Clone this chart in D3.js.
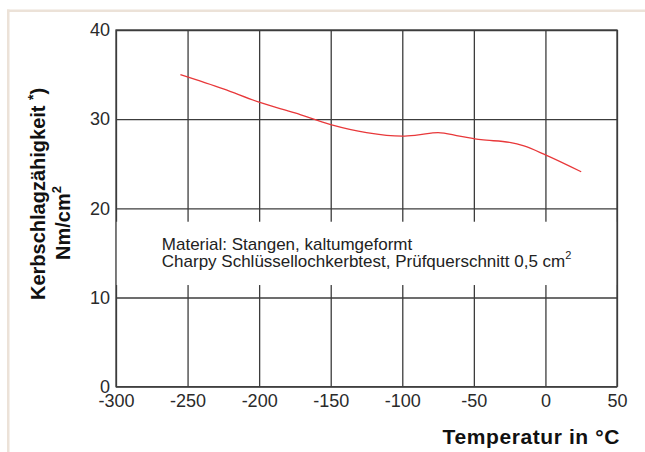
<!DOCTYPE html>
<html>
<head>
<meta charset="utf-8">
<script src="https://cdn.jsdelivr.net/npm/d3@7"></script>
<style>
  body { margin: 0; background: #fff; }
  svg { display: block; font-family: "Liberation Sans", Arial, sans-serif; }
</style>
</head>
<body>
<div id="chart"></div>
<script>
// data
const temps = [-255, -225, -200, -175, -150, -125, -100, -90, -75, -60, -45, -25, -15, 0, 25];
const impact = [35.0, 33.4, 31.9, 30.7, 29.4, 28.5, 28.1, 28.2, 28.5, 28.1, 27.7, 27.4, 27.0, 26.0, 24.1];
const xTicks = [-300, -250, -200, -150, -100, -50, 0, 50];
const yTicks = [0, 10, 20, 30, 40];
const noteLines = ["Material: Stangen, kaltumgeformt", "Charpy Schlüssellochkerbtest, Prüfquerschnitt 0,5 cm"];

const W = 645, H = 452;
const margin = {top: 30, right: 28, bottom: 65.3, left: 116};
const width = W - margin.left - margin.right;
const height = H - margin.top - margin.bottom;

const svg = d3.select("#chart")
    .append("svg")
    .attr("width", W)
    .attr("height", H);

// beige frame on top and left
svg.append("rect").attr("x", 7).attr("y", 9.5).attr("width", W - 7).attr("height", 2.5).attr("fill", "#ece2d8");
svg.append("rect").attr("x", 7).attr("y", 9.5).attr("width", 2.5).attr("height", H - 9.5).attr("fill", "#ece2d8");

const g = svg.append("g")
    .attr("transform", `translate(${margin.left}, ${margin.top})`);

const x = d3.scaleLinear().domain([-300, 50]).range([0, width]);
const y = d3.scaleLinear().domain([0, 40]).range([height, 0]);

// plain hyphen instead of the unicode minus
const fmt = d => String(d);

// Y axis with gridlines
const yAxis = g.append("g")
    .call(d3.axisLeft(y).tickValues(yTicks).tickFormat(fmt).tickSize(-width).tickSizeOuter(0).tickPadding(6));
// X axis with gridlines
const xAxis = g.append("g")
    .attr("transform", `translate(0, ${height})`)
    .call(d3.axisBottom(x).tickValues(xTicks).tickFormat(fmt).tickSize(-height).tickSizeOuter(0).tickPadding(8));

[yAxis, xAxis].forEach(a => {
  a.select(".domain").remove();
  a.selectAll(".tick line").attr("stroke", "#3c3c3c").attr("stroke-width", 1.3);
  a.selectAll(".tick text")
    .attr("fill", "#2a2a2a")
    .style("font-family", "'Liberation Sans', Arial, sans-serif")
    .style("font-size", "18px");
});

// white box behind the note
g.append("rect")
    .attr("x", x(-300))
    .attr("y", y(18.5))
    .attr("width", x(50) - x(-300))
    .attr("height", y(11.4) - y(18.5))
    .attr("fill", "#fff");

// plot frame
g.append("rect")
    .attr("x", 0).attr("y", 0)
    .attr("width", width).attr("height", height)
    .attr("fill", "none")
    .attr("stroke", "#3c3c3c")
    .attr("stroke-width", 1.3);

// note text
const note = g.append("text")
    .attr("x", x(-268))
    .attr("fill", "#222")
    .style("font-size", "17px");
note.append("tspan").attr("x", x(-268)).attr("y", 250 - margin.top).text(noteLines[0]);
note.append("tspan").attr("x", x(-268)).attr("y", 267 - margin.top).text(noteLines[1]);
note.append("tspan").attr("dy", -8).style("font-size", "11px").text("2");

// data line
const pts = temps.map((t, i) => [t, impact[i]]);
g.append("path")
    .datum(pts)
    .attr("fill", "none")
    .attr("stroke", "#e8383a")
    .attr("stroke-width", 1.3)
    .attr("d", d3.line().x(d => x(d[0])).y(d => y(d[1])).curve(d3.curveMonotoneX));

// y-axis title
const yt1 = svg.append("text")
    .attr("transform", "translate(45, 300) rotate(-90)")
    .style("font-size", "20px")
    .style("font-weight", "bold")
    .attr("fill", "#111");
yt1.append("tspan").text("Kerbschlagzähigkeit ");
yt1.append("tspan").attr("dy", -7).style("font-size", "14px").text("*");
yt1.append("tspan").attr("dy", 7).text(")");

const yt2 = svg.append("text")
    .attr("transform", "translate(70, 260) rotate(-90)")
    .style("font-size", "20px")
    .style("font-weight", "bold")
    .attr("fill", "#111");
yt2.append("tspan").text("Nm/cm");
yt2.append("tspan").attr("dy", -9).style("font-size", "13px").text("2");

// x-axis title
svg.append("text")
    .attr("x", 620)
    .attr("y", 444)
    .style("text-anchor", "end")
    .style("font-size", "21px")
    .style("font-weight", "bold")
    .style("letter-spacing", "0.6px")
    .attr("fill", "#111")
    .text("Temperatur in °C");
</script>
</body>
</html>
